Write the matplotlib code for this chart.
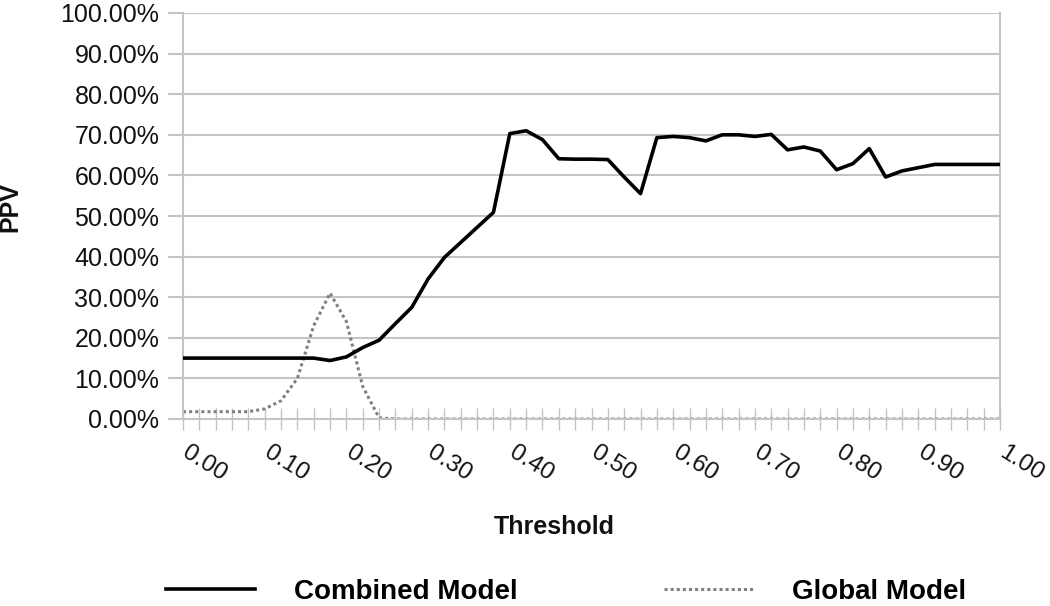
import numpy as np
import matplotlib.pyplot as plt
from matplotlib.ticker import FuncFormatter

plt.rcParams['font.family'] = ['Liberation Sans', 'DejaVu Sans']

# Data: thresholds 0.00 .. 1.00 in steps of 0.02
thresholds = [round(0.02 * i, 2) for i in range(51)]

combined_ppv = [
    15.0, 15.0, 15.0, 15.0, 15.0, 15.0, 15.0, 15.0, 15.0, 14.4,
    15.3, 17.6, 19.4, 23.5, 27.5, 34.5, 39.8, 43.5, 47.2, 50.9,
    70.3, 71.0, 68.8, 64.1, 64.0, 64.0, 63.9, 59.6, 55.5, 69.3,
    69.6, 69.3, 68.5, 70.0, 70.0, 69.6, 70.1, 66.3, 67.0, 66.0,
    61.4, 62.9, 66.6, 59.6, 61.1, 61.9, 62.7, 62.7, 62.7, 62.7,
    62.7,
]

global_ppv = [
    1.8, 1.8, 1.8, 1.8, 1.8, 2.5, 4.5, 10.0, 23.0, 31.0,
    24.0, 8.0, 0.3, 0.0, 0.0, 0.0, 0.0, 0.0, 0.0, 0.0,
    0.0, 0.0, 0.0, 0.0, 0.0, 0.0, 0.0, 0.0, 0.0, 0.0,
    0.0, 0.0, 0.0, 0.0, 0.0, 0.0, 0.0, 0.0, 0.0, 0.0,
    0.0, 0.0, 0.0, 0.0, 0.0, 0.0, 0.0, 0.0, 0.0, 0.0,
    0.0,
]

y_ticks = list(range(0, 101, 10))
x_label_ticks = [round(0.1 * i, 1) for i in range(11)]

fig = plt.figure(figsize=(10.5, 6.06), dpi=100)
ax = fig.add_axes([183 / 1050, 1 - 419 / 606, 817 / 1050, 406 / 606])

grid_col = '#c4c4c4'
text_col = '#111111'

ax.plot(thresholds, combined_ppv, color='black', lw=2.6, solid_joinstyle='round',
        label='Combined Model', zorder=3)
ax.plot(thresholds, global_ppv, color='#808080', lw=2.2, linestyle=(0, (1, 1)),
        label='Global Model', zorder=2)

ax.set_xlim(0, 1)
ax.set_ylim(0, 100)
ax.set_yticks(y_ticks)
ax.yaxis.set_major_formatter(FuncFormatter(lambda v, p: f'{v:.2f}%'))
ax.grid(axis='y', color=grid_col, lw=1.5)
ax.set_axisbelow(True)

# category-style ticks every 0.02, labels every 0.10
ax.set_xticks(thresholds)
ax.set_xticklabels([])
for t in x_label_ticks:
    ax.text(t + 0.009, -5.6, f'{t:.2f}', rotation=-32, rotation_mode='anchor',
            ha='left', va='top', fontsize=17.5, color=text_col)

ax.tick_params(axis='x', direction='inout', length=16, width=1, color=grid_col)
ax.tick_params(axis='y', direction='out', length=11, width=1.5, color=grid_col,
               labelsize=18, pad=6, labelcolor=text_col)

for side in ['left', 'right', 'bottom']:
    ax.spines[side].set_color(grid_col)
    ax.spines[side].set_linewidth(1.5)
ax.spines['top'].set_visible(False)

ax.set_xlabel('Threshold', fontsize=18, fontweight='bold', color=text_col)
ax.xaxis.set_label_coords(0.455, -0.236)
ax.set_ylabel('PPV', fontsize=18, fontweight='bold', color=text_col)
ax.yaxis.set_label_coords(-0.197, 0.521)

fig.legend(loc='center', bbox_to_anchor=(566 / 1050, 1 - 592 / 606), ncol=2,
           frameon=False, prop={'size': 20, 'weight': 'bold'},
           handlelength=3.2, handletextpad=1.4, columnspacing=5.3)

plt.savefig('out.png', dpi=100)
